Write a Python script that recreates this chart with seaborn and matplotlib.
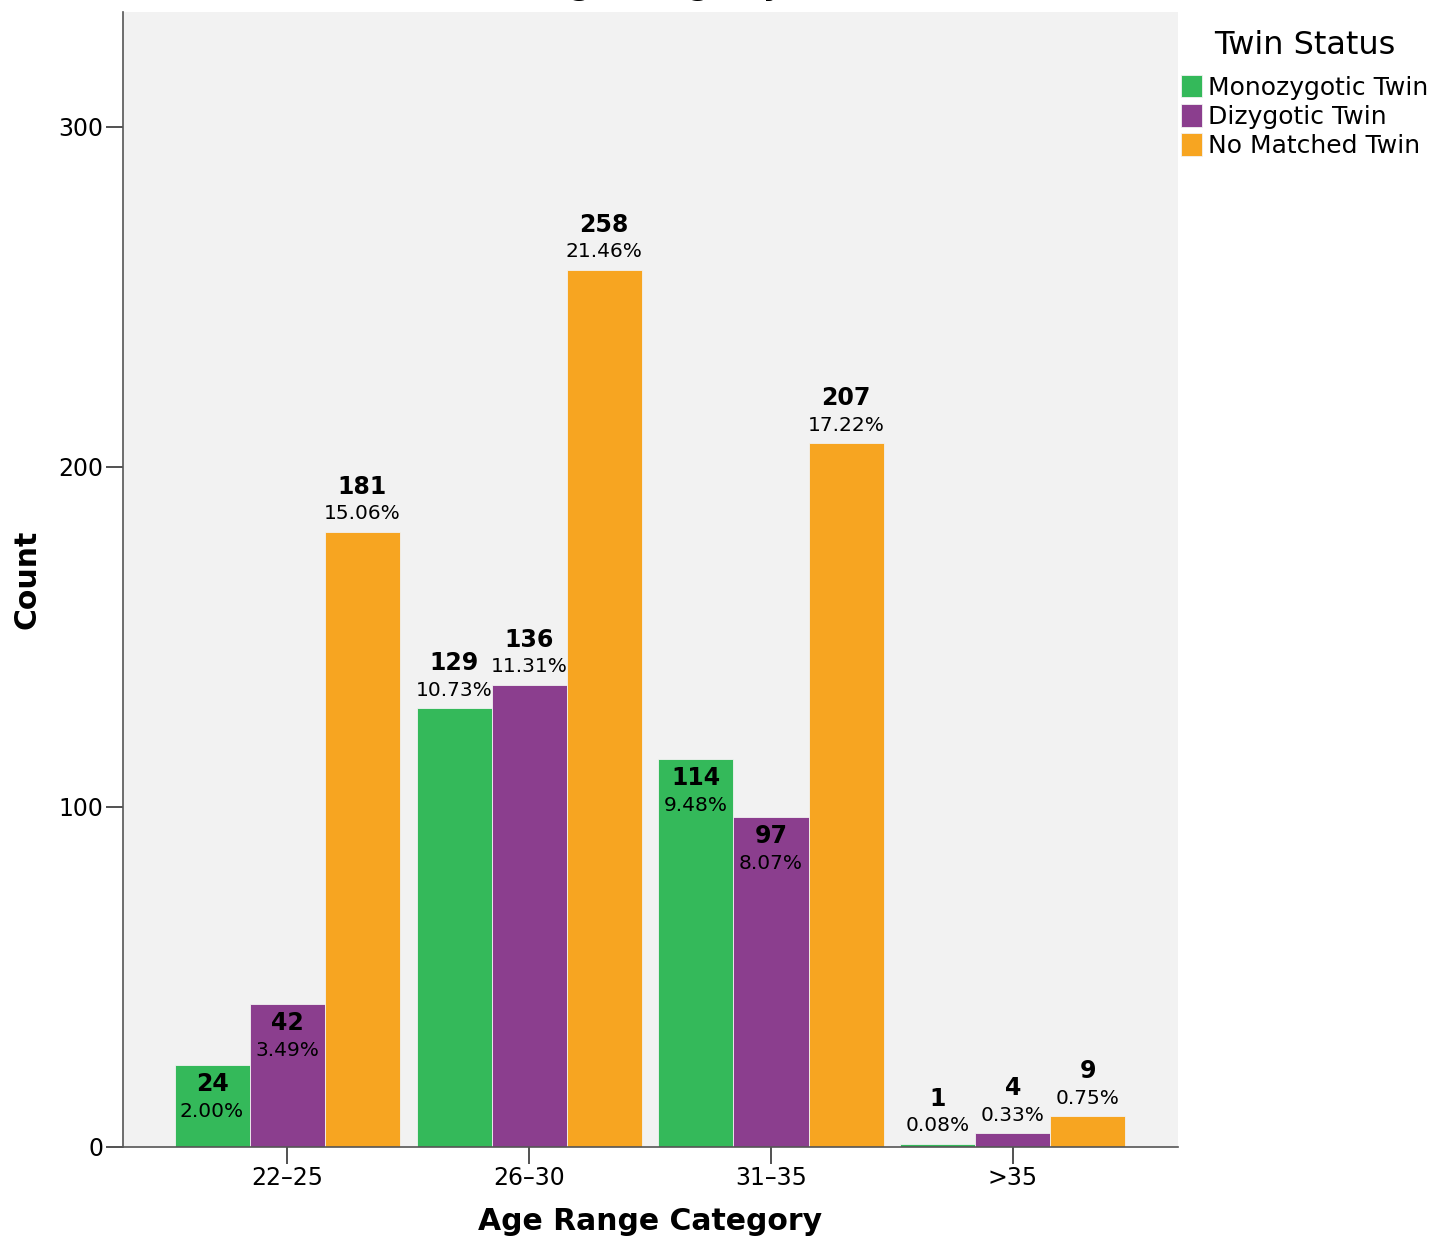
import matplotlib
matplotlib.use('Agg')
import pandas as pd
import matplotlib.pyplot as plt
import seaborn as sns

age_ranges = ["22–25", "26–30", "31–35", ">35"]
twin_status = ["Monozygotic Twin", "Dizygotic Twin", "No Matched Twin"]
mono_counts = [24, 129, 114, 1]
dizy_counts = [42, 136, 97, 4]
none_counts = [181, 258, 207, 9]
# label placed inside the top of the bar (True) or above it (False)
mono_inside = [True, False, True, False]
dizy_inside = [True, False, True, False]
none_inside = [False, False, False, False]
colors = ["#34b95a", "#8b3e8e", "#f7a521"]

rows = []
for status, counts in zip(twin_status, [mono_counts, dizy_counts, none_counts]):
    for age, c in zip(age_ranges, counts):
        rows.append({"Age": age, "Status": status, "Count": c})
df = pd.DataFrame(rows)
total = df["Count"].sum()

sns.set_style("white")
plt.rcParams['font.family'] = ['DejaVu Sans']
plt.rcParams['text.color'] = 'black'
plt.rcParams['axes.labelcolor'] = 'black'
plt.rcParams['xtick.color'] = 'black'
plt.rcParams['ytick.color'] = 'black'

fig = plt.figure(figsize=(14.39, 12.42), dpi=100)
ax = fig.add_axes([123 / 1439, 1 - 1147 / 1242, (1178 - 123) / 1439, (1147 - 12) / 1242])
ax.set_facecolor("#f2f2f2")

sns.barplot(data=df, x="Age", y="Count", hue="Status", order=age_ranges,
            hue_order=twin_status, palette=colors, saturation=1, width=0.93,
            edgecolor="#f2f2f2", linewidth=0.6, ax=ax)

ax.set_ylim(0, 333.8)
ax.set_xlim(-0.678, 3.682)
ax.set_yticks([0, 100, 200, 300])
ax.tick_params(axis="both", which="major", direction="out", length=12, width=1.2,
               color="#333333", labelsize=17, pad=2, left=True, bottom=True)
for side in ["top", "right"]:
    ax.spines[side].set_visible(False)
for side in ["left", "bottom"]:
    ax.spines[side].set_color("#555555")
    ax.spines[side].set_linewidth(1.2)

ax.set_xlabel("Age Range Category", fontsize=21.5, fontweight="bold", labelpad=12)
ax.set_ylabel("Count", fontsize=21.5, fontweight="bold")
ax.yaxis.set_label_coords((42 - 123) / 1055, 0.5)

px = 333.8 / (1147 - 12)  # data units per pixel
for container, inside in zip(ax.containers, [mono_inside, dizy_inside, none_inside]):
    for bar, ins in zip(container, inside):
        h = bar.get_height()
        xc = bar.get_x() + bar.get_width() / 2
        pct = "%.2f%%" % (100.0 * h / total)
        if ins:
            ax.text(xc, h - 19 * px, "%d" % h, ha="center", va="center",
                    fontsize=17, fontweight="bold")
            ax.text(xc, h - 46 * px, pct, ha="center", va="center", fontsize=14.5)
        else:
            ax.text(xc, h + 45 * px, "%d" % h, ha="center", va="center",
                    fontsize=17, fontweight="bold")
            ax.text(xc, h + 18 * px, pct, ha="center", va="center", fontsize=14.5)

handles, labels = ax.get_legend_handles_labels()
ax.get_legend().remove()
leg = fig.legend(handles, labels, title="Twin Status", loc="upper left",
                 bbox_to_anchor=(1171 / 1439, 1 - 20 / 1242), frameon=False,
                 fontsize=18, title_fontsize=23, handlelength=0.85, handleheight=1.0,
                 handletextpad=0.25, labelspacing=0.18, borderaxespad=0)
leg._legend_box.align = "center"
leg._legend_box.sep = 10

fig.text(0.535, 1.004, "Age Range by Twin Status", ha="center", va="baseline",
         fontsize=22, fontweight="bold")

fig.savefig("out.png", dpi=100)
